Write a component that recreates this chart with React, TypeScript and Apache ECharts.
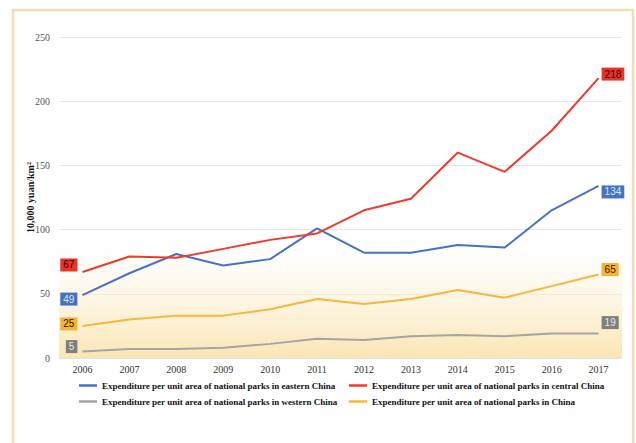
import React, { useEffect, useRef } from "react";
import * as echarts from "echarts";

const years = ["2006", "2007", "2008", "2009", "2010", "2011", "2012", "2013", "2014", "2015", "2016", "2017"];
const eastern = [49, 66, 81, 72, 77, 101, 82, 82, 88, 86, 115, 134];
const central = [67, 79, 78, 85, 92, 97, 115, 124, 160, 145, 177, 218];
const western = [5, 7, 7, 8, 11, 15, 14, 17, 18, 17, 19, 19];
const china = [25, 30, 33, 33, 38, 46, 42, 46, 53, 47, 56, 65];

const names = [
  "Expenditure per unit area of national parks in eastern China",
  "Expenditure per unit area of national parks in central China",
  "Expenditure per unit area of national parks in western China",
  "Expenditure per unit area of national parks in China",
];

const serif = "Liberation Serif";

function withEndLabels(values: number[], bg: string, fg: string, firstOffset: number[], lastOffset: number[]) {
  return values.map((v, i) => {
    const base = {
      show: true,
      backgroundColor: bg,
      color: fg,
      fontSize: 10,
      fontFamily: "Liberation Sans",
      padding: [2, 3, 1, 3],
    };
    if (i === 0) return { value: v, label: { ...base, position: "left", distance: 5, offset: firstOffset } };
    if (i === values.length - 1) return { value: v, label: { ...base, position: "right", distance: 3, offset: lastOffset } };
    return { value: v };
  });
}

export default function App() {
  const ref = useRef<HTMLDivElement>(null);
  useEffect(() => {
    if (!ref.current) return;
    const chart = echarts.init(ref.current, undefined, { renderer: "svg" });
    const lineSeries = (name: string, data: any[], color: string, z: number, extra: any = {}) => ({
      name,
      type: "line",
      data,
      z,
      symbol: "circle",
      symbolSize: 0.1,
      showSymbol: true,
      itemStyle: { color },
      lineStyle: { color, width: 2 },
      emphasis: { disabled: true },
      ...extra,
    });
    const legendText = { fontFamily: serif, fontWeight: "bold", fontSize: 9, color: "#111" };
    const legendBase = {
      orient: "vertical",
      top: 376,
      itemGap: 7,
      itemWidth: 18,
      itemHeight: 2.5,
      icon: "rect",
      textStyle: legendText,
    };
    chart.setOption({
      animation: false,
      backgroundColor: "#ffffff",
      textStyle: { fontFamily: serif },
      graphic: [
        {
          type: "rect",
          shape: { x: 13, y: 10, width: 620, height: 445 },
          style: { fill: "none", stroke: "#f1ddb6", lineWidth: 2.5 },
          silent: true,
          z: -10,
        },
      ],
      grid: { left: 59, right: 14, top: 37, bottom: 85 },
      legend: [
        { ...legendBase, data: [names[0], names[2]], left: 74 },
        { ...legendBase, data: [names[1], names[3]], left: 344 },
      ],
      xAxis: {
        type: "category",
        data: years,
        boundaryGap: true,
        axisLine: { show: true, lineStyle: { color: "#e3e3e3" } },
        axisTick: { show: false },
        axisLabel: { fontFamily: serif, fontSize: 10, color: "#333", margin: 6 },
      },
      yAxis: {
        type: "value",
        min: 0,
        max: 250,
        interval: 50,
        name: "10,000 yuan/km²",
        nameLocation: "middle",
        nameGap: 24,
        nameMoveOverlap: false,
        nameTextStyle: { fontFamily: serif, fontWeight: "bold", fontSize: 10, color: "#111" },
        axisLine: { show: false },
        axisTick: { show: false },
        axisLabel: { fontFamily: serif, fontSize: 10, color: "#555", margin: 9 },
        splitLine: { lineStyle: { color: "#e8e8e8", width: 1 } },
      },
      series: [
        lineSeries(names[0], withEndLabels(eastern, "#4472c4", "#dfe6f2", [0, 4], [0, 6]), "#4472c4", 4),
        lineSeries(names[1], withEndLabels(central, "#ee3124", "#2a0a0a", [0, -7], [0, -4]), "#f03a2c", 5),
        lineSeries(names[2], withEndLabels(western, "#7f7f7f", "#e8e8e8", [0, -5], [0, -11]), "#a5a5a5", 3, {
          markArea: {
            silent: true,
            itemStyle: {
              color: new echarts.graphic.LinearGradient(0, 0, 0, 1, [
                { offset: 0, color: "rgba(253,240,210,0)" },
                { offset: 1, color: "rgba(250,230,180,1)" },
              ]),
            },
            data: [[{ yAxis: 0 }, { yAxis: 85 }]],
          },
        }),
        lineSeries(names[3], withEndLabels(china, "#f7b22f", "#2a1a00", [0, -2], [0, -5]), "#fbb538", 4),
      ],
    });
    return () => chart.dispose();
  }, []);
  return (
    <div
      ref={ref}
      style={{ position: "fixed", left: 0, top: 0, width: 636, height: 443, background: "#fff" }}
    />
  );
}
